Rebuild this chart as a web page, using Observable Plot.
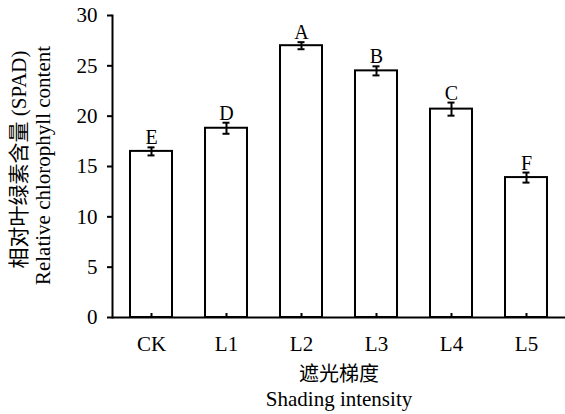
<!DOCTYPE html>
<html>
<head>
<meta charset="utf-8">
<script src="https://cdn.jsdelivr.net/npm/d3@7"></script>
<script src="https://cdn.jsdelivr.net/npm/@observablehq/plot@0.6"></script>
<style>
  html, body { margin: 0; padding: 0; background: white; }
</style>
</head>
<body>
<div id="chart"></div>
<script>
const categories = ["CK", "L1", "L2", "L3", "L4", "L5"];
const values = [16.5, 18.8, 27.0, 24.5, 20.7, 13.9];
const errors = [0.4, 0.55, 0.35, 0.45, 0.65, 0.5];
const letters = ["E", "D", "A", "B", "C", "F"];
const yTicks = [0, 5, 10, 15, 20, 25, 30];
const yLabelLines = ["相对叶绿素含量 (SPAD)", "Relative chlorophyll content"];
const xLabelLines = ["遮光梯度", "Shading intensity"];

const data = categories.map((c, i) => ({cat: c, value: values[i], err: errors[i], letter: letters[i]}));

const font = "'Liberation Serif', 'Times New Roman', 'Noto Sans CJK SC', serif";

const chart = Plot.plot({
  width: 565,
  height: 414,
  marginLeft: 112,
  marginRight: 0,
  marginTop: 15,
  marginBottom: 97,
  style: {fontFamily: font, background: "white", color: "black"},
  x: {type: "band", domain: categories, paddingInner: 0.44, paddingOuter: 0.22},
  y: {domain: [0, 30]},
  marks: [
    Plot.barY(data, {x: "cat", y: "value", fill: "white", stroke: "black", strokeWidth: 2}),
    Plot.ruleX(data, {x: "cat", y1: d => d.value - d.err, y2: d => d.value + d.err, stroke: "black", strokeWidth: 2}),
    Plot.tickY(data, {x: "cat", y: d => d.value + d.err, insetLeft: 17.5, insetRight: 17.5, stroke: "black", strokeWidth: 2}),
    Plot.tickY(data, {x: "cat", y: d => d.value - d.err, insetLeft: 17.5, insetRight: 17.5, stroke: "black", strokeWidth: 2}),
    Plot.text(data, {x: "cat", y: d => d.value + d.err, text: "letter", dy: -3, lineAnchor: "bottom", fontSize: 20, fontFamily: font, fill: "black"}),
    Plot.axisY({ticks: yTicks, tickSize: 5, tickPadding: 10, fontSize: 21, fontFamily: font, label: null, strokeWidth: 2}),
    Plot.axisX({tickSize: 4, dy: -4, tickFormat: () => "", label: null, strokeWidth: 2}),
    Plot.axisX({tickSize: 0, tickPadding: 19, fontSize: 21, fontFamily: font, label: null}),
    Plot.ruleY([0], {stroke: "black", strokeWidth: 2}),
    Plot.frame({anchor: "left", stroke: "black", strokeWidth: 2}),
    Plot.text([yLabelLines[0]], {text: d => d, frameAnchor: "left", textAnchor: "middle", lineAnchor: "middle", rotate: -90, dx: -93, dy: -7, fontSize: 21, fontFamily: font, fill: "black"}),
    Plot.text([yLabelLines[1]], {text: d => d, frameAnchor: "left", textAnchor: "middle", lineAnchor: "middle", rotate: -90, dx: -69, dy: -1, fontSize: 21, fontFamily: font, fill: "black"}),
    Plot.text([xLabelLines[0]], {text: d => d, frameAnchor: "bottom", textAnchor: "middle", lineAnchor: "middle", dy: 57, fontSize: 20, fontFamily: font, fill: "black"}),
    Plot.text([xLabelLines[1]], {text: d => d, frameAnchor: "bottom", textAnchor: "middle", lineAnchor: "middle", dy: 82, fontSize: 21, fontFamily: font, fill: "black"})
  ]
});
document.getElementById("chart").appendChild(chart);
</script>
</body>
</html>
